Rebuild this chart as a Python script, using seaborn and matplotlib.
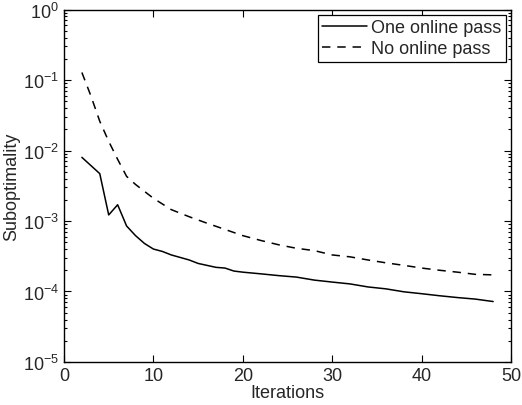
import matplotlib
matplotlib.use("Agg")
import matplotlib.pyplot as plt
import numpy as np
import pandas as pd
import seaborn as sns
from matplotlib.ticker import LogLocator, FixedLocator

# values
one_pass_x = [2, 4, 5, 6, 7, 8, 9, 10, 11, 12, 14, 15, 17, 18, 19, 20, 22, 24, 26,
              28, 30, 32, 34, 36, 38, 40, 42, 44, 46, 48]
one_pass_y = [8.0e-3, 4.7e-3, 1.22e-3, 1.7e-3, 8.5e-4, 6.2e-4, 4.8e-4, 4.0e-4, 3.7e-4,
              3.3e-4, 2.8e-4, 2.5e-4, 2.2e-4, 2.15e-4, 1.95e-4, 1.88e-4, 1.78e-4,
              1.68e-4, 1.6e-4, 1.45e-4, 1.36e-4, 1.28e-4, 1.16e-4, 1.09e-4, 9.9e-5,
              9.3e-5, 8.7e-5, 8.2e-5, 7.8e-5, 7.2e-5]

no_pass_x = [2, 3, 4, 5, 6, 7, 8, 10, 12, 14, 16, 18, 20, 22, 24, 26, 28, 30, 32,
             34, 36, 38, 40, 42, 44, 46, 48]
no_pass_y = [0.128, 0.06, 0.026, 0.0135, 0.0075, 4.3e-3, 3.3e-3, 2.1e-3, 1.45e-3,
             1.15e-3, 9.3e-4, 7.6e-4, 6.2e-4, 5.3e-4, 4.6e-4, 4.1e-4, 3.8e-4, 3.3e-4,
             3.1e-4, 2.8e-4, 2.55e-4, 2.35e-4, 2.15e-4, 2.0e-4, 1.88e-4, 1.75e-4,
             1.72e-4]

labels = ["One online pass", "No online pass"]
x_ticks = [0, 10, 20, 30, 40, 50]

sns.set_style("ticks")
plt.rcParams["font.family"] = ["Liberation Sans", "DejaVu Sans"]
plt.rcParams["mathtext.fontset"] = "custom"
plt.rcParams["mathtext.rm"] = "Liberation Sans"
plt.rcParams["mathtext.it"] = "Liberation Sans"

df1 = pd.DataFrame({"x": one_pass_x, "y": one_pass_y})
df2 = pd.DataFrame({"x": no_pass_x, "y": no_pass_y})

fig = plt.figure(figsize=(5.22, 4.06), dpi=100)
ax = fig.add_axes([0.1226, 0.106, 0.8564, 0.868])

sns.lineplot(data=df1, x="x", y="y", ax=ax, color="black", lw=1.1, label=labels[0])
sns.lineplot(data=df2, x="x", y="y", ax=ax, color="black", lw=1.1,
             linestyle=(0, (5.5, 4.5)), label=labels[1])

ax.set_yscale("log")
ax.set_xlim(0, 50)
ax.set_ylim(1e-5, 1)
ax.xaxis.set_major_locator(FixedLocator(x_ticks))
ax.yaxis.set_major_locator(LogLocator(base=10, numticks=10))
ax.yaxis.set_minor_locator(LogLocator(base=10, subs=np.arange(2, 10), numticks=20))

ax.tick_params(which="both", direction="in", top=True, right=True, labelsize=13,
               width=0.8, color="black")
ax.tick_params(which="major", length=5)
ax.tick_params(which="minor", length=2.5)
ax.tick_params(axis="x", which="minor", bottom=False, top=False)
for s in ax.spines.values():
    s.set_linewidth(1.0)
    s.set_color("black")

ax.set_xlabel("Iterations", fontsize=13, labelpad=0)
ax.set_ylabel("Suboptimality", fontsize=13, labelpad=2)

leg = ax.legend(loc="upper right", fontsize=13, frameon=True, fancybox=False,
                edgecolor="black", framealpha=1, handlelength=2.5,
                borderaxespad=0.3, borderpad=0.25, labelspacing=0.2,
                handletextpad=0.2)
leg.get_frame().set_linewidth(0.9)

fig.savefig("out.png", dpi=100)
